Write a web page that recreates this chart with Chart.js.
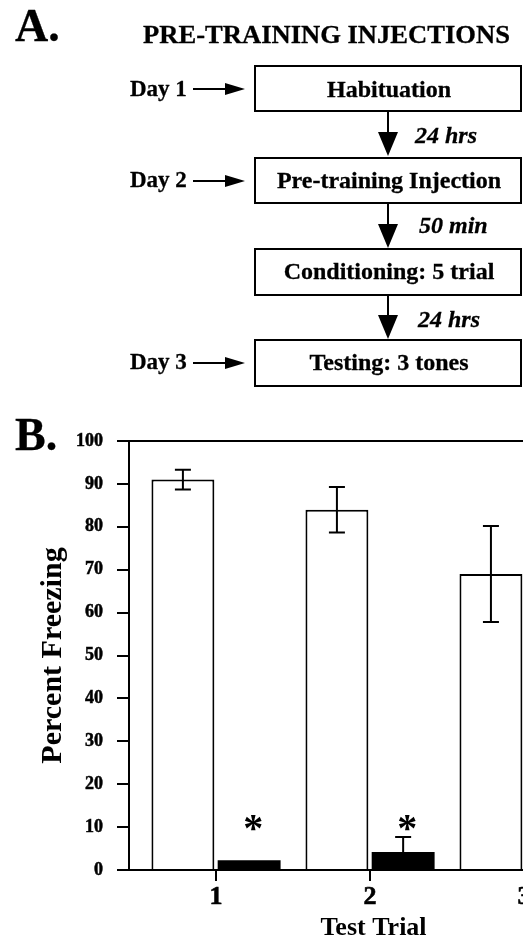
<!DOCTYPE html>
<html>
<head>
<meta charset="utf-8">
<script src="https://cdn.jsdelivr.net/npm/chart.js@4"></script>
<style>
  html, body { margin: 0; padding: 0; background: #fff; }
  body { width: 523px; height: 940px; overflow: hidden; position: relative; }
  #panelB { position: absolute; left: 0; top: 400px; width: 523px; height: 540px; overflow: hidden; }
  #chart { position: absolute; left: 0; top: 0; }
  #flow { position: absolute; left: 0; top: 0; pointer-events: none; }
  #flow text { font-family: 'Liberation Serif', 'Times New Roman', serif; font-weight: bold; fill: #000; stroke: #000; stroke-width: 0.3px; }
</style>
</head>
<body>
<div id="panelB"><canvas id="chart" width="620" height="560"></canvas></div>

<svg id="flow" width="523" height="940">
  <text x="15" y="41" font-size="46">A.</text>
  <text x="143" y="43" font-size="26" textLength="367" lengthAdjust="spacingAndGlyphs">PRE-TRAINING INJECTIONS</text>

  <g fill="none" stroke="#000" stroke-width="2">
    <rect x="255" y="66" width="266" height="45"/>
    <rect x="255" y="158" width="266" height="45"/>
    <rect x="255" y="249" width="266" height="46"/>
    <rect x="255" y="340" width="266" height="46"/>
    <line x1="388" y1="112" x2="388" y2="134"/>
    <line x1="388" y1="204" x2="388" y2="226"/>
    <line x1="388" y1="296" x2="388" y2="317"/>
    <line x1="193" y1="89" x2="227" y2="89"/>
    <line x1="193" y1="181" x2="227" y2="181"/>
    <line x1="193" y1="363" x2="227" y2="363"/>
  </g>
  <g fill="#000">
    <polygon points="378,132 398,132 388,156"/>
    <polygon points="378,224 398,224 388,248"/>
    <polygon points="378,315 398,315 388,339"/>
    <polygon points="225,83 225,95 245,89"/>
    <polygon points="225,175 225,187 245,181"/>
    <polygon points="225,357 225,369 245,363"/>
  </g>

  <g font-size="24" text-anchor="middle">
    <text x="389" y="97">Habituation</text>
    <text x="389" y="188">Pre-training Injection</text>
    <text x="389" y="279">Conditioning: 5 trial</text>
    <text x="389" y="370">Testing: 3 tones</text>
  </g>
  <g font-size="24" font-style="italic">
    <text x="415" y="143">24 hrs</text>
    <text x="419" y="233">50 min</text>
    <text x="418" y="327">24 hrs</text>
  </g>
  <g font-size="23">
    <text x="130" y="96">Day 1</text>
    <text x="130" y="187">Day 2</text>
    <text x="130" y="369">Day 3</text>
  </g>

  <text x="15" y="450" font-size="46">B.</text>
</svg>

<script>
// values
const trials = [1, 2, 3];
const vehicleMean = [91, 84, 69];
const vehicleSem = [2.3, 5.3, 11.2];
const drugMean = [2.3, 4.2, null]; // third black bar is cut off in the figure
const drugSem = [0, 3.5, null];
const significant = [true, true, false];
const yMax = 100;
const yStep = 10;

const serif = "'Liberation Serif', 'Times New Roman', serif";

// top edge of the plot frame
const frame = {
  id: 'frame',
  afterDraw(chart) {
    const { ctx, chartArea } = chart;
    ctx.save();
    ctx.strokeStyle = '#000';
    ctx.lineWidth = 2;
    ctx.beginPath();
    ctx.moveTo(chartArea.left - 1, chartArea.top);
    ctx.lineTo(chartArea.right, chartArea.top);
    ctx.stroke();
    ctx.restore();
  },
};

// sem bars, drawn through the y scale
const errorBars = {
  id: 'errorBars',
  afterDatasetsDraw(chart) {
    const { ctx } = chart;
    const y = chart.scales.y;
    const sems = [vehicleSem, drugSem];
    ctx.save();
    ctx.strokeStyle = '#000';
    ctx.lineWidth = 2;
    chart.data.datasets.forEach((ds, di) => {
      const meta = chart.getDatasetMeta(di);
      meta.data.forEach((bar, i) => {
        const m = ds.data[i].y;
        const e = sems[di][i];
        if (m == null || !e) return;
        const top = y.getPixelForValue(m + e);
        const bot = y.getPixelForValue(m - e);
        const half = 8;
        ctx.beginPath();
        ctx.moveTo(bar.x, top);
        ctx.lineTo(bar.x, bot);
        ctx.moveTo(bar.x - half, top);
        ctx.lineTo(bar.x + half, top);
        ctx.moveTo(bar.x - half, bot);
        ctx.lineTo(bar.x + half, bot);
        ctx.stroke();
      });
    });
    ctx.restore();
  },
};

// asterisks over the drug bars
const stars = {
  id: 'stars',
  afterDatasetsDraw(chart) {
    const { ctx } = chart;
    const y = chart.scales.y;
    const meta = chart.getDatasetMeta(1);
    ctx.save();
    ctx.fillStyle = '#000';
    ctx.font = 'bold 40px ' + serif;
    ctx.textAlign = 'center';
    ctx.textBaseline = 'alphabetic';
    meta.data.forEach((bar, i) => {
      if (!significant[i]) return;
      ctx.fillText('*', bar.x + 4, y.getPixelForValue(10.8) + 17);
    });
    ctx.restore();
  },
};

new Chart(document.getElementById('chart').getContext('2d'), {
  type: 'bar',
  data: {
    datasets: [
      {
        label: 'Vehicle',
        data: trials.map((t, i) => ({ x: t, y: vehicleMean[i] })),
        backgroundColor: '#fff',
        borderColor: '#000',
        borderWidth: 2,
        borderSkipped: 'bottom',
      },
      {
        label: 'Drug',
        data: trials.map((t, i) => ({ x: t, y: drugMean[i] })),
        backgroundColor: '#000',
        borderColor: '#000',
        borderWidth: 0,
      },
    ],
  },
  options: {
    responsive: false,
    animation: false,
    events: [],
    layout: { padding: { top: 41, left: 0, right: 2, bottom: 0 } },
    datasets: { bar: { categoryPercentage: 0.86, barPercentage: 0.95 } },
    plugins: { legend: { display: false }, tooltip: { enabled: false } },
    scales: {
      x: {
        type: 'linear',
        min: 0.435,
        max: 3.61,
        offset: false,
        afterBuildTicks: (s) => { s.ticks = trials.map((v) => ({ value: v })); },
        afterFit: (s) => { s.height = 90; },
        ticks: {
          color: '#000',
          padding: 1,
          textStrokeColor: '#000',
          textStrokeWidth: 0.6,
          font: { family: serif, size: 26, weight: 'bold' },
          callback: (v) => String(v),
        },
        grid: { offset: false, drawOnChartArea: false, drawTicks: true, tickLength: 11, color: '#000', lineWidth: 2 },
        border: { display: true, color: '#000', width: 2 },
        title: {
          display: true,
          text: 'Test Trial',
          color: '#000',
          font: { family: serif, size: 26, weight: 'bold' },
          padding: { top: 0, bottom: 16 },
        },
      },
      y: {
        min: 0,
        max: yMax,
        afterFit: (s) => { s.width = 129; },
        ticks: {
          stepSize: yStep,
          color: '#000',
          padding: 14,
          textStrokeColor: '#000',
          textStrokeWidth: 0.5,
          font: { family: serif, size: 18, weight: 'bold' },
        },
        grid: { drawOnChartArea: false, drawTicks: true, tickLength: 12, color: '#000', lineWidth: 2 },
        border: { display: true, color: '#000', width: 2 },
        title: {
          display: true,
          text: 'Percent Freezing',
          color: '#000',
          font: { family: serif, size: 30, weight: 'bold' },
          padding: { top: 35, bottom: 0 },
        },
      },
    },
  },
  plugins: [frame, errorBars, stars],
});
</script>
</body>
</html>
